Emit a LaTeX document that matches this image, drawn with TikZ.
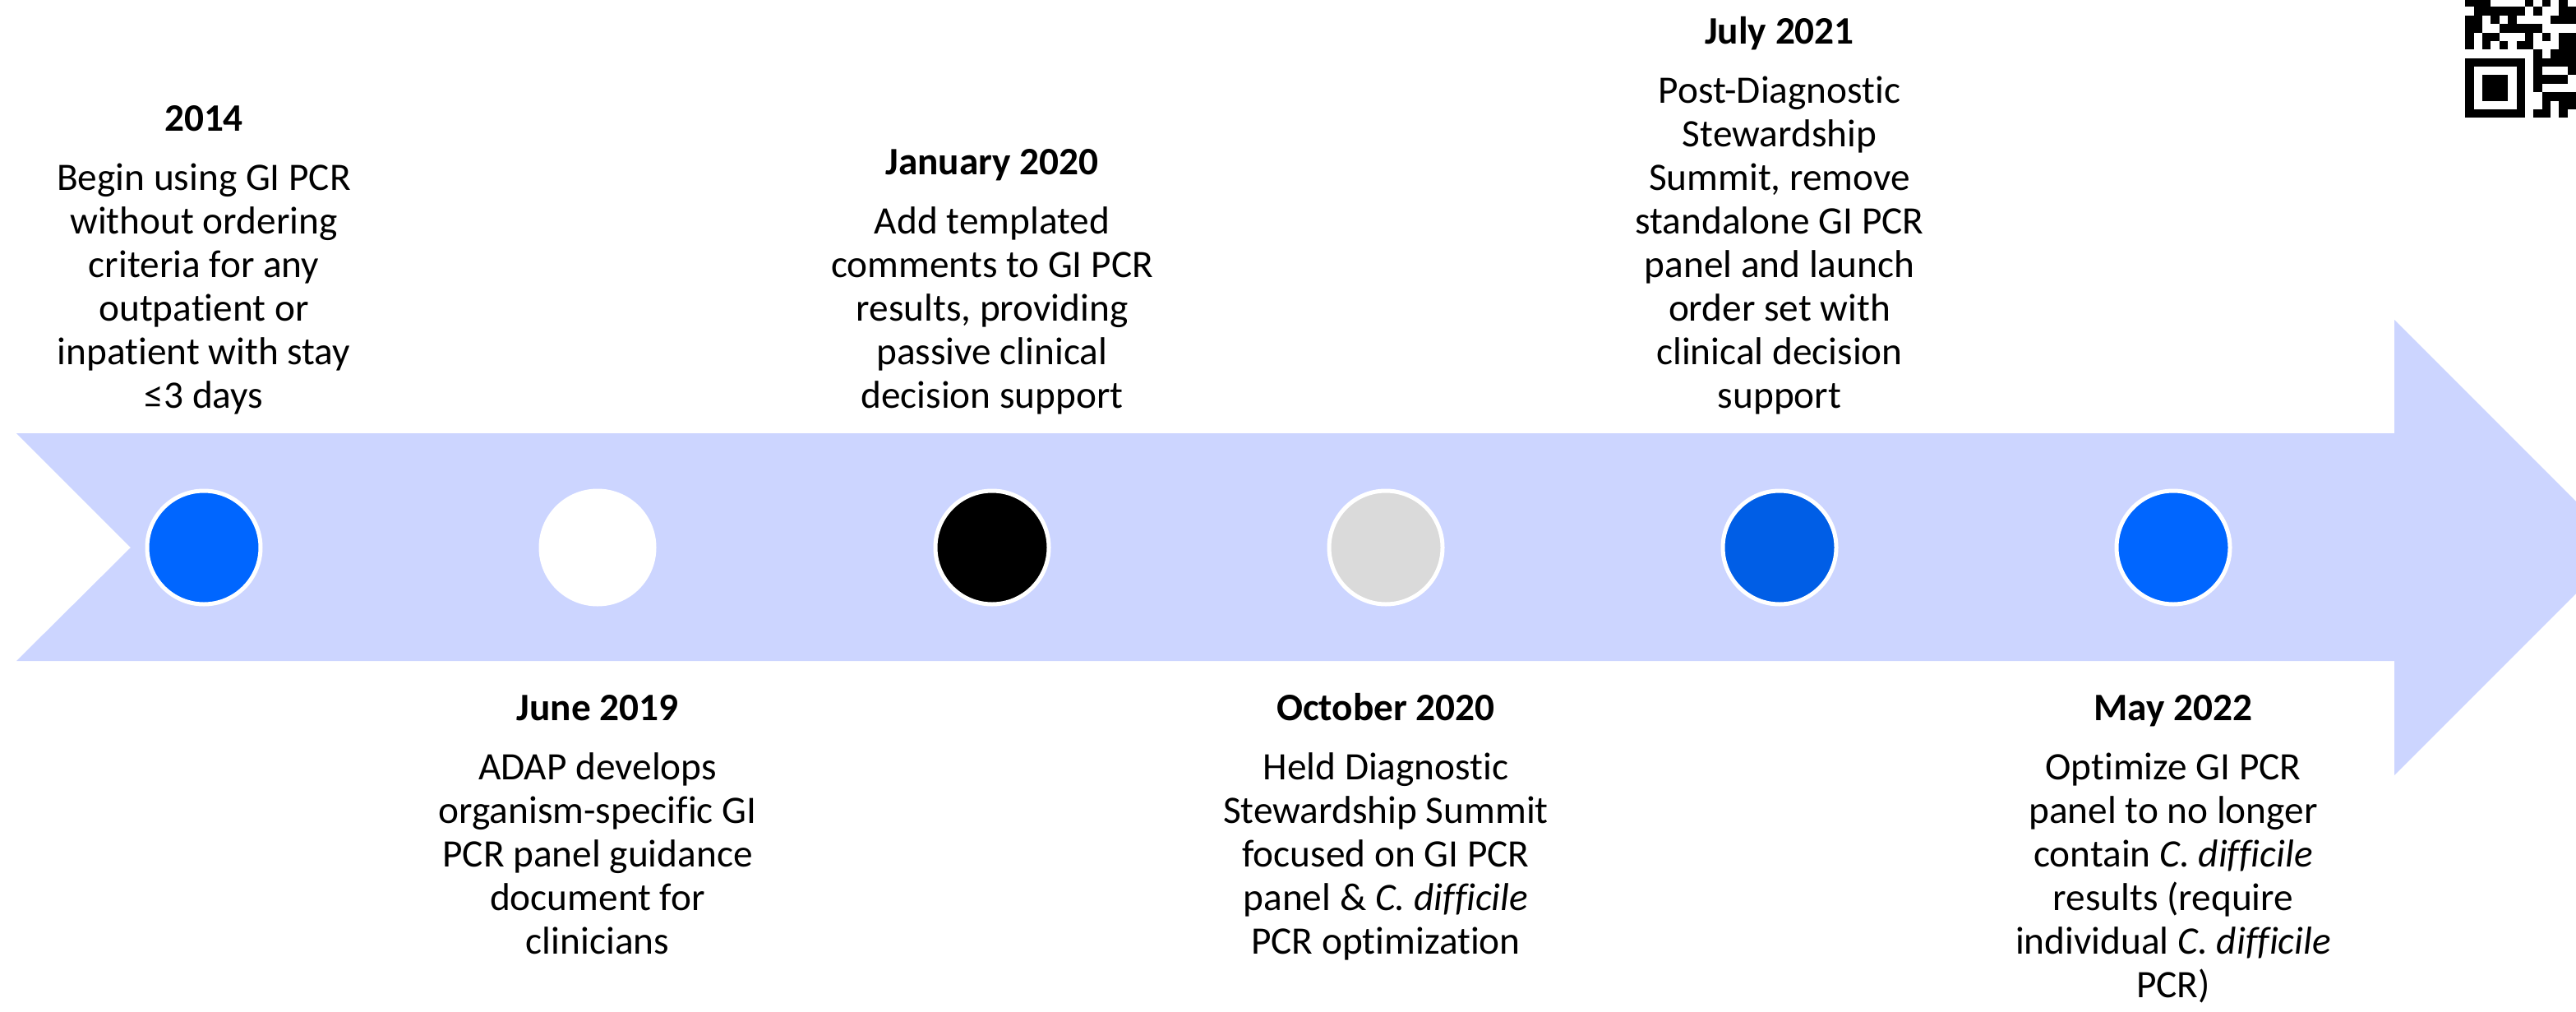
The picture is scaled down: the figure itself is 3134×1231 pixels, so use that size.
\documentclass[tikz,border=0pt]{standalone}
\usepackage{fontspec}
\setmainfont[Ligatures=NoCommon]{Carlito}
\usetikzlibrary{positioning}

\definecolor{band}{RGB}{204,213,255}
\definecolor{dotblue}{RGB}{0,102,255}
\definecolor{dotdark}{RGB}{0,94,230}
\definecolor{dotgrey}{RGB}{218,218,218}

\tikzset{
  dot/.style={circle, draw=white, line width=5pt, minimum size=138pt, inner sep=0pt, outer sep=0pt},
  event/.style={align=center, inner sep=0pt, font=\fontsize{47.3}{53}\selectfont},
}
% bold date line, then a wider gap before the text
\newcommand{\when}[1]{\textbf{#1}\strut\\[19pt]}
\newcommand{\cdiff}{\textit{C. difficile}}

\begin{document}
\begin{tikzpicture}[x=1pt, y=-1pt]
  \useasboundingbox (0,0) rectangle (3134,1231);
  \begin{scope}
    \clip (0,0) rectangle (3134,1231);
    % timeline band
    \fill[band] (20,527) -- (2913,527) -- (2913,389) -- (3190,666) -- (2913,943)
      -- (2913,804) -- (20,804) -- (159,666) -- cycle;
    % corner code
    \foreach \r/\cols in {-7/{0,1,2,7,9,11}, -6/{1,2,3,4,5,6,8,11,12}, -5/{0,1,3,5,10,11,12},
        -4/{0,1,4,5,6,7,8}, -3/{0,2,3,7,9,11,12}, -2/{0,2,4,6,7,11,12}, -1/{8,10,11,12},
        0/{0,1,2,3,4,5,6,8,9,10,11,12}, 1/{0,6,8,12}, 2/{0,2,3,4,6,8,9,10,11},
        3/{0,2,3,4,6,8}, 4/{0,2,3,4,6,9,10,11,12}, 5/{0,6,9,11,12}, 6/{0,1,2,3,4,5,6,8,9,11}}
      \foreach \c in \cols
        \fill ({2999.3+10.37*\c}, {70.7+10.37*\r}) rectangle ++(10.37,10.37);
  \end{scope}

  % milestones
  \foreach \i/\x/\col in {1/248/dotblue, 2/727/white, 3/1207/black, 4/1686/dotgrey, 5/2165/dotdark, 6/2644/dotblue}
    \node[dot, fill=\col] (c\i) at (\x,666) {};

  \node[event, above=84pt of c1] (e1) {\when{2014}Begin using GI PCR\\without ordering\\criteria for any\\outpatient or\\inpatient with stay\\≤3 days\strut};
  \node[event, below=104pt of c2] (e2) {\when{June 2019}ADAP develops\\organism-specific GI\\PCR panel guidance\\document for\\clinicians\strut};
  \node[event, above=84pt of c3] (e3) {\when{January 2020}Add templated\\comments to GI PCR\\results, providing\\passive clinical\\decision support\strut};
  \node[event, below=104pt of c4] (e4) {\when{October 2020}Held Diagnostic\\Stewardship Summit\\focused on GI PCR\\panel \& \cdiff\\PCR optimization\strut};
  \node[event, above=84pt of c5] (e5) {\when{July 2021}Post-Diagnostic\\Stewardship\\Summit, remove\\standalone GI PCR\\panel and launch\\order set with\\clinical decision\\support\strut};
  \node[event, below=104pt of c6] (e6) {\when{May 2022}Optimize GI PCR\\panel to no longer\\contain \cdiff\\results (require\\individual \cdiff\\PCR)\strut};
\end{tikzpicture}
\end{document}
